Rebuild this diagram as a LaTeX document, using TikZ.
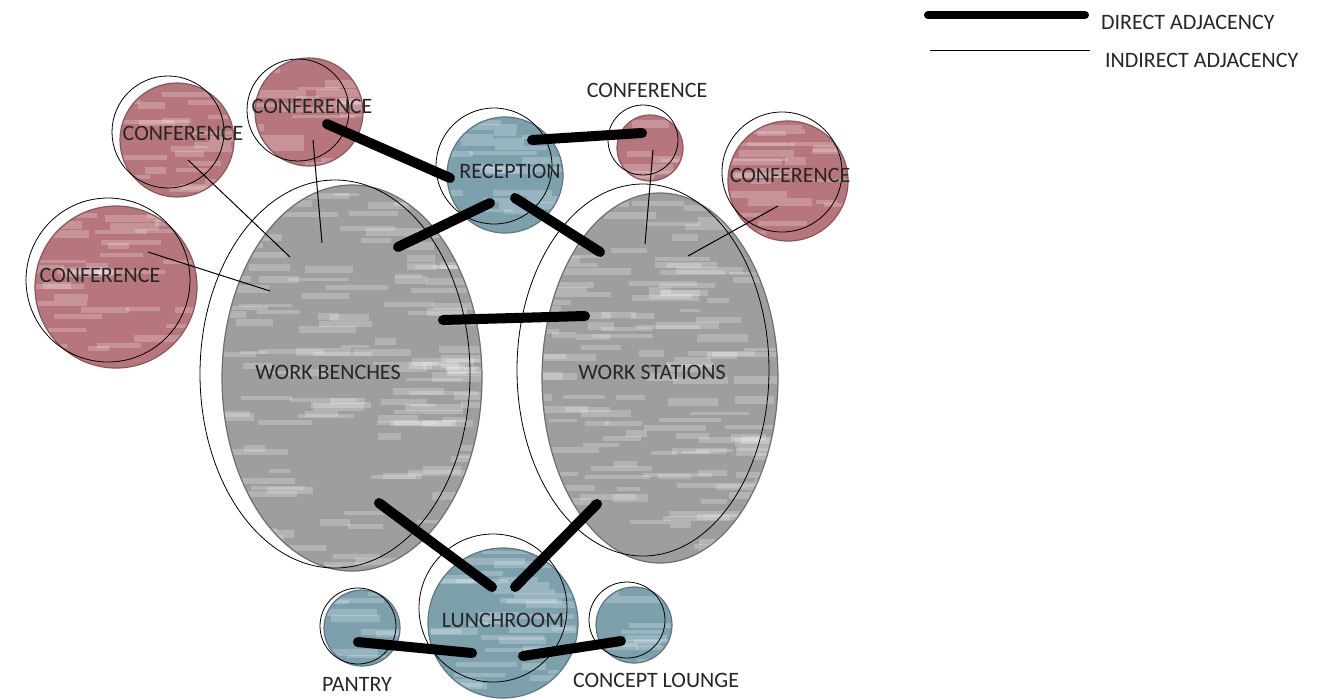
\documentclass[tikz,border=0pt]{standalone}
\usepackage{fontspec}
\setmainfont{Carlito}
\usetikzlibrary{shapes.geometric,calc}

\definecolor{confred}{RGB}{182,118,124}
\definecolor{recblue}{RGB}{124,160,172}
\definecolor{benchgray}{RGB}{158,158,158}

\tikzset{
  room/.style={circle, inner sep=0pt, fill=#1, draw=#1!75!black, line width=0.6pt},
  hall/.style={ellipse, inner sep=0pt, fill=benchgray, draw=benchgray!70!black, line width=0.6pt},
  ring/.style={circle, inner sep=0pt, draw=black, line width=0.4pt},
  ringhall/.style={ellipse, inner sep=0pt, draw=black, line width=0.4pt},
  roomtext/.style={font=\fontsize{11}{13}\selectfont, text=black!85},
  direct/.style={line width=5pt, line cap=round},
  indirect/.style={line width=0.5pt},
  streak/.style={white, opacity=0.22},
}

% white streaks inside a filled room
\newcommand{\roomtexture}[5]{%
  \begin{scope}
    \clip (#1) ellipse [x radius=#2, y radius=#3];
    \pgfmathsetseed{#5}
    \foreach \k in {1,...,#4} {
      \pgfmathsetmacro{\sx}{rand*#2-20}
      \pgfmathsetmacro{\sy}{rand*#3}
      \pgfmathsetmacro{\sl}{20+rnd*50}
      \pgfmathsetmacro{\sh}{3+rnd*5}
      \fill[streak] ($(#1)+(\sx,\sy)$) rectangle ++(\sl,\sh);
    }
  \end{scope}}

\begin{document}
\begin{tikzpicture}[x=0.5pt,y=-0.5pt]
\useasboundingbox (0,0) rectangle (1333,698);

% fills
\node[room=confred, minimum size=57pt] (confA) at (177,140) {};
\node[room=confred, minimum size=54pt] (confB) at (309,112) {};
\node[room=confred, minimum size=81pt] (confC) at (116,287) {};
\node[room=confred, minimum size=33pt] (confD) at (650,148) {};
\node[room=confred, minimum size=60pt] (confE) at (788,181) {};
\node[room=recblue, minimum size=58pt] (recep) at (505,175) {};
\node[hall, minimum width=130pt, minimum height=193pt] (wb) at (352,378) {};
\node[hall, minimum width=118pt, minimum height=185pt] (ws) at (660,378) {};
\node[room=recblue, minimum size=75pt] (lunch) at (503,623) {};
\node[room=recblue, minimum size=38pt] (pantry) at (362,628) {};
\node[room=recblue, minimum size=38pt] (lounge) at (634,625) {};

\roomtexture{confA}{56}{56}{22}{11}
\roomtexture{confB}{53}{53}{20}{12}
\roomtexture{confC}{80}{80}{40}{13}
\roomtexture{confD}{32}{32}{9}{14}
\roomtexture{confE}{59}{59}{24}{15}
\roomtexture{recep}{57}{57}{22}{16}
\roomtexture{wb}{129}{192}{150}{17}
\roomtexture{ws}{117}{184}{140}{18}
\roomtexture{lunch}{74}{74}{34}{19}
\roomtexture{pantry}{37}{37}{10}{20}
\roomtexture{lounge}{37}{37}{10}{21}

% outlines
\node[ring, minimum size=56pt] (confA-o) at (168,132) {};
\node[ring, minimum size=51pt] (confB-o) at (298,110) {};
\node[ring, minimum size=82pt] (confC-o) at (108,280) {};
\node[ring, minimum size=35pt] (confD-o) at (643,140) {};
\node[ring, minimum size=60pt] (confE-o) at (782,172) {};
\node[ring, minimum size=58pt] (recep-o) at (494,166) {};
\node[ringhall, minimum width=135pt, minimum height=194pt] (wb-o) at (335,374) {};
\node[ringhall, minimum width=126pt, minimum height=186pt] (ws-o) at (643,370) {};
\node[ring, minimum size=74pt] (lunch-o) at (493,608) {};
\node[ring, minimum size=38pt] (pantry-o) at (358,626) {};
\node[ring, minimum size=38pt] (lounge-o) at (627,620) {};

% indirect adjacency
\draw[indirect] ($(confA)+(11,20)$) -- ($(wb)+(-62,-121)$);
\draw[indirect] ($(confB)+(4,28)$) -- ($(wb)+(-30,-135)$);
\draw[indirect] ($(confC)+(32,-35)$) -- ($(wb)+(-82,-87)$);
\draw[indirect] ($(confD)+(3,2)$) -- ($(ws)+(-15,-134)$);
\draw[indirect] ($(confE)+(-10,25)$) -- ($(ws)+(28,-122)$);

% direct adjacency
\draw[direct] ($(confB)+(18,12)$) -- ($(recep)+(-55,3)$);
\draw[direct] ($(recep)+(27,-35)$) -- ($(confD)+(-8,-15)$);
\draw[direct] ($(recep)+(-15,28)$) -- ($(wb)+(46,-131)$);
\draw[direct] ($(recep)+(10,23)$) -- ($(ws)+(-60,-126)$);
\draw[direct] ($(wb)+(91,-58)$) -- ($(ws)+(-75,-62)$);
\draw[direct] ($(wb)+(27,125)$) -- ($(lunch)+(-11,-36)$);
\draw[direct] ($(ws)+(-63,126)$) -- ($(lunch)+(12,-36)$);
\draw[direct] ($(pantry)+(-4,14)$) -- ($(lunch)+(-31,30)$);
\draw[direct] ($(lunch)+(20,33)$) -- ($(lounge)+(-13,16)$);

% labels
\node[roomtext] (confA-t) at (183,133) {CONFERENCE};
\node[roomtext] (confB-t) at (312,106) {CONFERENCE};
\node[roomtext] (confC-t) at (100,275) {CONFERENCE};
\node[roomtext] (confD-t) at (647,90) {CONFERENCE};
\node[roomtext] (confE-t) at (790,175) {CONFERENCE};
\node[roomtext] (recep-t) at (510,171) {RECEPTION};
\node[roomtext] (wb-t) at (328,372) {WORK BENCHES};
\node[roomtext] (ws-t) at (652,372) {WORK STATIONS};
\node[roomtext] (lunch-t) at (503,620) {LUNCHROOM};
\node[roomtext] (pantry-t) at (357,684) {PANTRY};
\node[roomtext] (lounge-t) at (656,680) {CONCEPT LOUNGE};

% legend
\coordinate (leg1a) at (928,15);
\coordinate (leg1b) at (1085,15);
\coordinate (leg2a) at (930,50);
\coordinate (leg2b) at (1090,50);
\draw[direct, line width=4pt] (leg1a) -- (leg1b);
\draw[indirect] (leg2a) -- (leg2b);
\node[roomtext, anchor=west] (leg1-t) at (1094,22) {DIRECT ADJACENCY};
\node[roomtext, anchor=west] (leg2-t) at (1098,60) {INDIRECT ADJACENCY};
\end{tikzpicture}
\end{document}
